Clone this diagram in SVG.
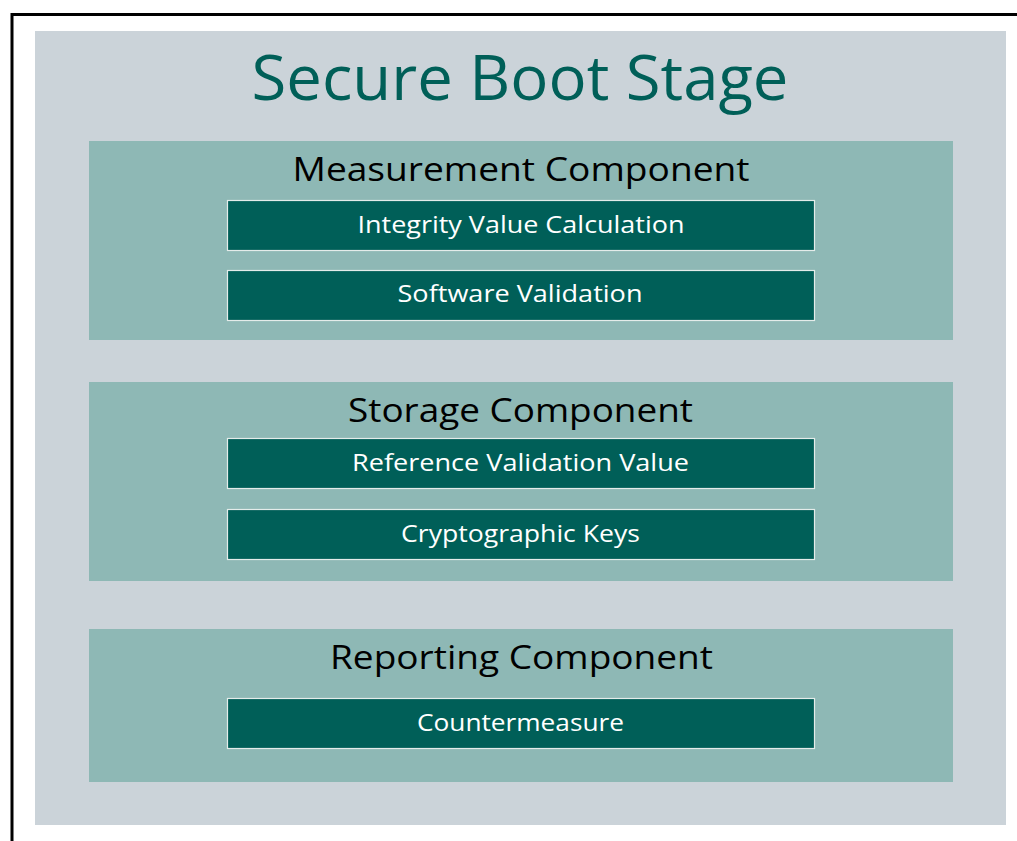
<svg xmlns="http://www.w3.org/2000/svg" width="1017" height="841" viewBox="0 0 1017 841">
  <style>
    .frame { fill: #ffffff; stroke: #000000; stroke-width: 3; }
    .stage { fill: #CBD3D9; }
    .section { fill: #8EB8B5; }
    .item { fill: #005F58; stroke: #E4ECEA; stroke-width: 1.2; }
    .title { font-family: "Open Sans", "Liberation Sans", sans-serif; font-size: 63px; fill: #005F58; text-anchor: middle; }
    .heading { font-family: "Open Sans", "Liberation Sans", sans-serif; font-size: 32px; fill: #000000; text-anchor: middle; }
    .label { font-family: "Open Sans", "Liberation Sans", sans-serif; font-size: 24px; fill: #ffffff; text-anchor: middle; }
  </style>

  <rect x="0" y="0" width="1017" height="841" fill="#ffffff"/>
  <rect class="frame" x="12" y="14.5" width="1012" height="840"/>

  <g id="secure-boot-stage">
    <rect class="stage" x="35" y="31" width="971" height="794"/>
    <text class="title" x="520" y="100" textLength="537" lengthAdjust="spacingAndGlyphs">Secure Boot Stage</text>
  </g>

  <g id="measurement-component">
    <rect class="section" x="89" y="141" width="864" height="199"/>
    <text class="heading" x="521" y="181" textLength="457" lengthAdjust="spacingAndGlyphs">Measurement Component</text>
  </g>
  <g id="integrity-value-calculation">
    <rect class="item" x="227.5" y="200.5" width="587" height="50"/>
    <text class="label" x="521" y="233" textLength="327" lengthAdjust="spacingAndGlyphs">Integrity Value Calculation</text>
  </g>
  <g id="software-validation">
    <rect class="item" x="227.5" y="270.5" width="587" height="50"/>
    <text class="label" x="520" y="302" textLength="245" lengthAdjust="spacingAndGlyphs">Software Validation</text>
  </g>

  <g id="storage-component">
    <rect class="section" x="89" y="382" width="864" height="199"/>
    <text class="heading" x="520.5" y="422" textLength="345" lengthAdjust="spacingAndGlyphs">Storage Component</text>
  </g>
  <g id="reference-validation-value">
    <rect class="item" x="227.5" y="438.5" width="587" height="50"/>
    <text class="label" x="520.5" y="471" textLength="337" lengthAdjust="spacingAndGlyphs">Reference Validation Value</text>
  </g>
  <g id="cryptographic-keys">
    <rect class="item" x="227.5" y="509.5" width="587" height="50"/>
    <text class="label" x="520.5" y="542" textLength="239" lengthAdjust="spacingAndGlyphs">Cryptographic Keys</text>
  </g>

  <g id="reporting-component">
    <rect class="section" x="89" y="629" width="864" height="153"/>
    <text class="heading" x="521.5" y="669" textLength="383" lengthAdjust="spacingAndGlyphs">Reporting Component</text>
  </g>
  <g id="countermeasure">
    <rect class="item" x="227.5" y="698.5" width="587" height="50"/>
    <text class="label" x="520.5" y="731" textLength="207" lengthAdjust="spacingAndGlyphs">Countermeasure</text>
  </g>

  <g id="connectors"/>
</svg>
